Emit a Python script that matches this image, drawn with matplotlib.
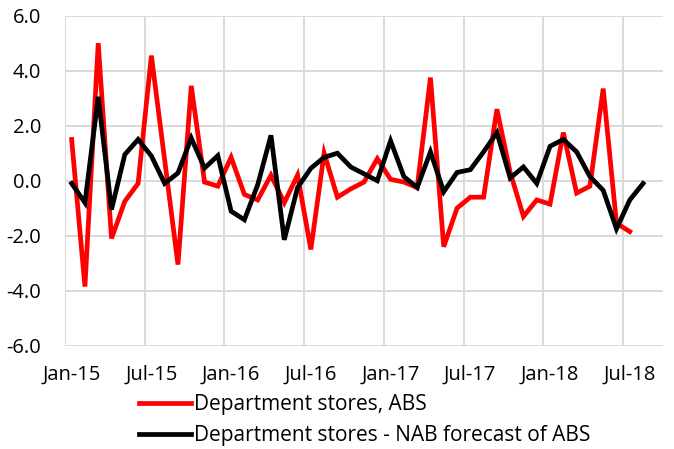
import matplotlib
matplotlib.use("Agg")
import matplotlib.pyplot as plt
import numpy as np

plt.rcParams['font.family'] = ['Open Sans', 'DejaVu Sans']
plt.rcParams['axes.unicode_minus'] = False

# Monthly % change, Jan-15 onwards
dept_abs = [1.5, -3.85, 5.0, -2.1, -0.75, -0.1, 4.55, 0.75, -3.05, 3.45,
            -0.05, -0.2, 0.85, -0.5, -0.7, 0.2, -0.8, 0.2, -2.5, 1.0,
            -0.6, -0.3, -0.05, 0.8, 0.05, -0.05, -0.25, 3.75, -2.4, -1.0,
            -0.6, -0.6, 2.6, 0.3, -1.3, -0.7, -0.85, 1.75, -0.45, -0.2,
            3.35, -1.55, -1.85]
nab_forecast = [-0.1, -0.8, 3.05, -1.05, 0.95, 1.5, 0.9, -0.1, 0.28, 1.55,
                0.46, 0.91, -1.11, -1.42, -0.15, 1.65, -2.15, -0.25, 0.45, 0.85,
                1.0, 0.5, 0.25, 0.0, 1.45, 0.15, -0.25, 1.05, -0.4, 0.3,
                0.4, 1.05, 1.75, 0.1, 0.5, -0.1, 1.25, 1.5, 1.05, 0.15,
                -0.35, -1.75, -0.7, -0.1]
x_tick_labels = ["Jan-15", "Jul-15", "Jan-16", "Jul-16", "Jan-17", "Jul-17", "Jan-18", "Jul-18"]
y_ticks = [-6.0, -4.0, -2.0, 0.0, 2.0, 4.0, 6.0]
y_tick_labels = ["-6.0", "-4.0", "-2.0", "0.0", "2.0", "4.0", "6.0"]
series_names = ["Department stores, ABS", "Department stores - NAB forecast of ABS"]

fig = plt.figure(figsize=(6.74, 4.49), dpi=100)
ax = fig.add_axes([65/674, 1-345.7/449, (663-65)/674, (345.7-15.7)/449])

x_red = np.arange(len(dept_abs))
x_blk = np.arange(len(nab_forecast))

grid_c = '#d9d9d9'
for gx in np.arange(-0.5, 44, 6):
    ax.axvline(gx, color=grid_c, lw=1.4, zorder=0)
for gy in y_ticks:
    ax.axhline(gy, color=grid_c, lw=1.4, zorder=0)

ax.plot(x_red, dept_abs, color='#ff0000', lw=3.4, solid_joinstyle='miter', label=series_names[0], zorder=2)
ax.plot(x_blk, nab_forecast, color='#000000', lw=3.4, solid_joinstyle='miter', label=series_names[1], zorder=3)

ax.set_xlim(-0.5, 44.5)
ax.set_ylim(-6.0, 6.0)
ax.set_xticks(np.arange(0, 43, 6))
ax.set_xticklabels(x_tick_labels)
ax.set_yticks(y_ticks)
ax.set_yticklabels(y_tick_labels)
ax.tick_params(axis='both', length=0, labelsize=14.5, colors='#000000')
ax.tick_params(axis='x', pad=14)
ax.tick_params(axis='y', pad=17)
for s in ax.spines.values():
    s.set_visible(False)

fig.legend(loc='upper left', bbox_to_anchor=(139/674, 1-394/449), frameon=False,
           fontsize=15, handlelength=2.5, handletextpad=0.15, labelspacing=0.5,
           borderaxespad=0, borderpad=0)

fig.savefig('out.png', dpi=100)
